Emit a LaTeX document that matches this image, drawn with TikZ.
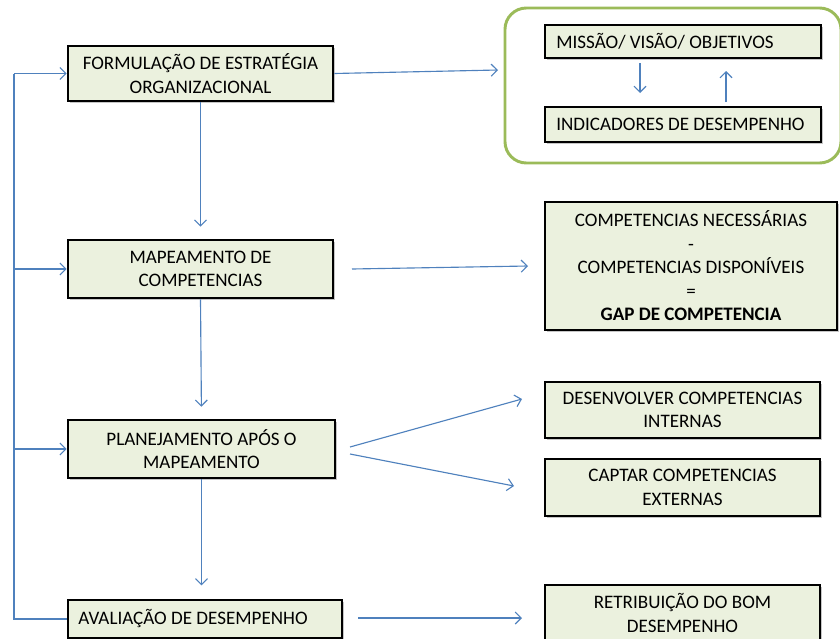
\documentclass[tikz,border=0pt]{standalone}
\usepackage{fontspec}
\setmainfont{Carlito}
\usetikzlibrary{arrows.meta,shadows}
\definecolor{boxfill}{HTML}{EBF1DE}
\definecolor{arrblue}{HTML}{4F81BD}
\definecolor{grpgreen}{HTML}{9BBB59}
\begin{document}
\begin{tikzpicture}[x=0.75pt,y=-0.75pt,
  box/.style={draw=black,line width=1.9pt,fill=boxfill,inner sep=3pt,
    drop shadow={shadow xshift=1.8pt,shadow yshift=-1.8pt,opacity=0.45},
    font=\fontsize{14.3}{17.6}\selectfont,align=center},
  line/.style={draw=arrblue,line width=0.85pt},
  arr/.style={line,-{Straight Barb[length=4.5pt,width=9pt]}}]
\useasboundingbox (0,0) rectangle (840,639);
% group frame
\node[draw=grpgreen,line width=2.2pt,rounded corners=16pt,minimum width=252pt,minimum height=116.25pt] (grp) at (673,85.5) {};
% boxes
\node[box,minimum width=198.75pt,minimum height=41.25pt] (form) at (200.5,73.5) {FORMULAÇÃO DE ESTRATÉGIA\\ORGANIZACIONAL};
\node[box,minimum width=198.75pt,minimum height=43.5pt] (mapa) at (200.5,269) {MAPEAMENTO DE\\COMPETENCIAS};
\node[box,minimum width=200.25pt,minimum height=43.5pt] (plan) at (201.5,449) {PLANEJAMENTO APÓS O\\MAPEAMENTO};
\node[box,minimum width=205.5pt,minimum height=28.5pt,align=flush left,text width=190pt] (aval) at (205,619) {AVALIAÇÃO DE DESEMPENHO};
\node[box,minimum width=207pt,minimum height=24.75pt,align=flush left,text width=190pt] (missao) at (683,41.5) {MISSÃO/ VISÃO/ OBJETIVOS};
\node[box,minimum width=207pt,minimum height=26.25pt,align=flush left,text width=190pt] (indic) at (683,124.5) {INDICADORES DE DESEMPENHO};
\node[box,minimum width=219pt,minimum height=96pt] (comp) at (691,266) {COMPETENCIAS NECESSÁRIAS\\-\\COMPETENCIAS DISPONÍVEIS\\=\\\textbf{GAP DE COMPETENCIA}};
\node[box,minimum width=206.25pt,minimum height=42pt] (desenv) at (682.5,410) {DESENVOLVER COMPETENCIAS\\INTERNAS};
\node[box,minimum width=206.25pt,minimum height=42.75pt] (captar) at (682.5,487.5) {CAPTAR COMPETENCIAS\\EXTERNAS};
\node[box,minimum width=206.25pt,minimum height=42pt] (retrib) at (682.5,613) {RETRIBUIÇÃO DO BOM\\DESEMPENHO};
% coordinates for free ends
\coordinate (f1) at (498,70);
\coordinate (m0) at (352,269);
\coordinate (m1) at (528,266);
\coordinate (p0a) at (350,447);
\coordinate (p1a) at (522,399);
\coordinate (p0b) at (350,454);
\coordinate (p1b) at (514,486);
\coordinate (a0) at (358,618);
\coordinate (a1) at (522,618);
\coordinate (d0) at (640,63);
\coordinate (d1) at (640,93);
\coordinate (u0) at (726,102);
\coordinate (u1) at (726,71);
\coordinate (l0) at (14,619);
\coordinate (l1) at (14,73.5);
\coordinate (l2) at (14,269);
\coordinate (l3) at (14,449);
% connectors
\draw[arr] (form.east) -- (f1);
\draw[arr] (m0) -- (m1);
\draw[arr] (p0a) -- (p1a);
\draw[arr] (p0b) -- (p1b);
\draw[arr] (a0) -- (a1);
\draw[arr] (d0) -- (d1);
\draw[arr] (u0) -- (u1);
\draw[arr,shorten >=9pt] (form.south) -- (mapa.north);
\draw[arr,shorten >=9pt] (mapa.south) -- (plan.north);
\draw[arr,shorten >=10pt] (plan.south) -- (plan.south |- aval.north);
\draw[line] (aval.west) -- (l0) -- (l1);
\draw[arr] (l1) -- (form.west);
\draw[arr] (l2) -- (mapa.west);
\draw[arr] (l3) -- (plan.west);
\end{tikzpicture}
\end{document}
